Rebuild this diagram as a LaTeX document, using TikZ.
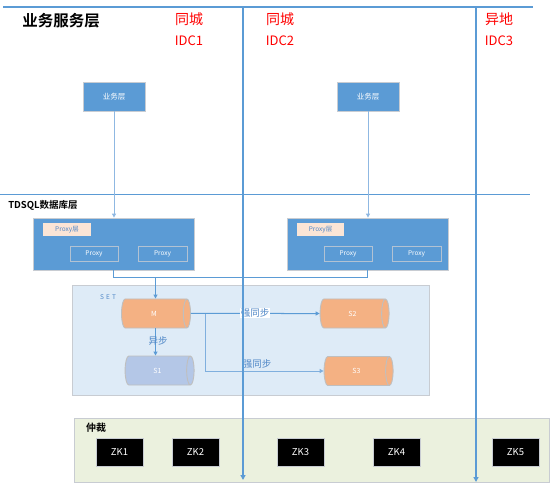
\documentclass[tikz,border=0pt]{standalone}
\usepackage{fontspec}
\setmainfont{Noto Sans CJK SC}[BoldFont={Noto Sans CJK SC Bold}]
\usetikzlibrary{shapes.geometric,arrows.meta}
\definecolor{lineblue}{HTML}{5B9BD5}
\definecolor{thinblue}{HTML}{8FB8E2}
\definecolor{boxblue}{HTML}{5B9BD5}
\definecolor{peach}{HTML}{FBE5D6}
\definecolor{orangec}{HTML}{F4B183}
\definecolor{s1blue}{HTML}{B4C7E7}
\definecolor{setbg}{HTML}{DEEBF7}
\definecolor{zkbg}{HTML}{EBF1DE}
\definecolor{bordergray}{HTML}{C8CCD2}
\definecolor{cylborder}{HTML}{BFBFBF}
\definecolor{labelblue}{HTML}{4F87C7}
\tikzset{
  fs/.style={font=\fontsize{#1}{#1}\selectfont},
  bigline/.style={draw=lineblue, line width=1.5pt},
  tip/.style={-{Triangle[width=4pt,length=4pt]}},
  bizbox/.style={draw=bordergray, fill=boxblue, minimum width=62pt, minimum height=29pt, inner sep=0pt, text=white, fs=7.5},
  proxywrap/.style={draw=bordergray, line width=0.8pt, fill=boxblue, minimum width=161pt, minimum height=52pt, inner sep=0pt},
  tabbox/.style={fill=peach, minimum width=48pt, minimum height=13pt, inner sep=0pt, text=labelblue, fs=6.5},
  proxybox/.style={draw=bordergray!80!boxblue, line width=0.9pt, minimum width=48pt, minimum height=15pt, inner sep=0pt, text=white, fs=6.5},
  cyl/.style={cylinder, shape border rotate=0, aspect=1.4, draw=cylborder, line width=0.9pt, minimum height=69pt, minimum width=29pt, inner sep=0pt, text=white, fs=7},
  conn/.style={draw=lineblue, line width=1pt},
  lbl/.style={text=labelblue, fs=9.5, inner sep=0.5pt},
  zk/.style={draw=bordergray, fill=black, minimum width=47pt, minimum height=28pt, inner sep=0pt, text=white, fs=9.5},
  idc/.style={text=red, inner sep=0pt}
}
\begin{document}
\begin{tikzpicture}[x=1pt,y=-1pt]
\useasboundingbox (0,0) rectangle (554,494);

% headings
\node[inner sep=0pt, font=\bfseries\fontsize{15.5}{16}\selectfont] (title) at (61,21) {业务服务层};
\node[idc, fs=14] (c1) at (189,19) {同城};
\node[idc, fs=13] (i1) at (189,41) {IDC1};
\node[idc, fs=14] (c2) at (280,19) {同城};
\node[idc, fs=13] (i2) at (280,41) {IDC2};
\node[idc, fs=14] (c3) at (499,19) {异地};
\node[idc, fs=13] (i3) at (499,41) {IDC3};

% horizontal dividers
\coordinate (h1l) at (3,7);
\coordinate (h1r) at (533,7);
\coordinate (h2l) at (0,194.5);
\coordinate (h2r) at (530,194.5);
\draw[bigline] (h1l) -- (h1r);
\draw[bigline] (h2l) -- (h2r);

% business boxes
\node[bizbox] (biz1) at (114,96.5) {业务层};
\node[bizbox] (biz2) at (368,96.5) {业务层};

\node[inner sep=0pt, font=\bfseries\fontsize{9.5}{10}\selectfont] (tdsql) at (43,205) {TDSQL数据库层};

% proxy
\node[proxywrap] (proxyL) at (113.5,244) {};
\node[proxywrap] (proxyR) at (367.5,244) {};
\node[tabbox] (tabL) at (67,229.5) {Proxy层};
\node[tabbox, minimum width=47pt] (tabR) at (320.5,229.5) {Proxy层};
\node[proxybox] (pL1) at (94,253.5) {Proxy};
\node[proxybox, minimum width=49pt] (pL2) at (162.5,253.5) {Proxy};
\node[proxybox] (pR1) at (348,253.5) {Proxy};
\node[proxybox, minimum width=49pt] (pR2) at (416.5,253.5) {Proxy};

\draw[draw=thinblue, line width=1pt, tip] (biz1.south) -- (biz1.south |- proxyL.north);
\draw[draw=thinblue, line width=1pt, tip] (biz2.south) -- (biz2.south |- proxyR.north);

% SET
\node[draw=bordergray, line width=0.8pt, fill=setbg, minimum width=357pt, minimum height=110pt, inner sep=0pt] (set) at (250.5,340) {};
\node[text=labelblue, fs=6.5, inner sep=0pt] (setlbl) at (108,297) {S\,\,E\,\,T};

\node[cyl, fill=orangec] (M) at (154,313.5) {M};
\node[cyl, fill=orangec] (S2) at (352.5,313.5) {S2};
\node[cyl, fill=s1blue] (S1) at (157.5,370.5) {S1};
\node[cyl, fill=orangec] (S3) at (356.5,371) {S3};

\coordinate (join) at (155.5,278);
\draw[conn] (proxyL.south) -- (proxyL.south |- join) -- (proxyR.south |- join) -- (proxyR.south);
\draw[conn, tip] (join) -- (join |- M.north);

\draw[conn, tip] (M.east) -- (S2.west);
\node[lbl, fill=white] (l1) at (255,313) {强同步};
\coordinate (br) at (205,313.5);
\draw[conn, draw=thinblue!70!lineblue, tip] (br) |- (S3.west);
\node[lbl] (l2) at (257,364) {强同步};
\draw[conn, tip] (join |- M.south) -- (join |- S1.north);
\node[lbl] (l3) at (158,341) {异步};

% arbitration
\node[draw=bordergray, line width=0.8pt, fill=zkbg, minimum width=475pt, minimum height=64pt, inner sep=0pt] (arb) at (311.5,450) {};
\node[inner sep=0pt, font=\bfseries\fontsize{10}{10}\selectfont] (arblbl) at (96,428) {仲裁};
\node[zk] (zk1) at (119.5,452) {ZK1};
\node[zk] (zk2) at (195.5,452) {ZK2};
\node[zk] (zk3) at (300.5,452) {ZK3};
\node[zk] (zk4) at (396.5,452) {ZK4};
\node[zk] (zk5) at (515.5,452) {ZK5};

% vertical dividers
\coordinate (v1t) at (243,7);
\coordinate (v1b) at (243,480);
\coordinate (v2t) at (476,7);
\coordinate (v2b) at (476,482);
\draw[bigline, -{Triangle[width=5pt,length=5pt]}] (v1t) -- (v1b);
\draw[bigline, -{Triangle[width=5pt,length=5pt]}] (v2t) -- (v2b);
\end{tikzpicture}
\end{document}
